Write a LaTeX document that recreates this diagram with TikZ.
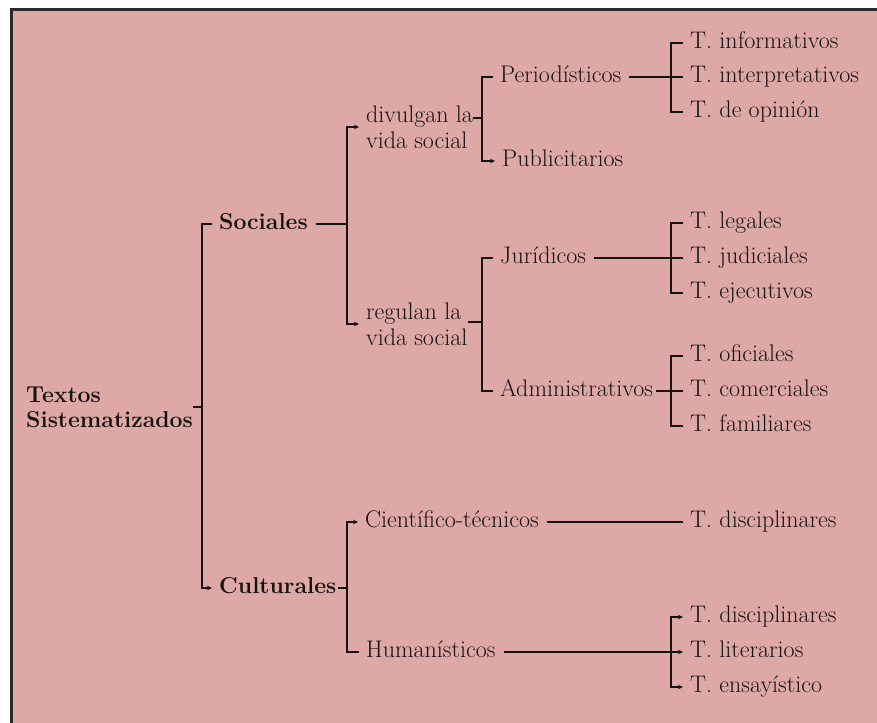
\documentclass[tikz,border=0pt]{standalone}
\usepackage{fontspec}
\usetikzlibrary{arrows.meta}
\definecolor{bgpink}{RGB}{221,168,165}
\definecolor{ink}{RGB}{22,18,18}
\definecolor{framegray}{RGB}{42,40,40}

\begin{document}
\begin{tikzpicture}[x=1pt, y=-1pt,
    txt/.style={font=\fontsize{24}{26}\selectfont, text=ink, inner sep=0pt, anchor=west, text height=15.5pt, text depth=4.5pt},
    two/.style={font=\fontsize{24}{26}\selectfont, text=ink, inner sep=0pt, anchor=west, align=left},
    hd/.style={txt, font=\fontsize{23}{26}\selectfont\bfseries},
    twohd/.style={two, font=\fontsize{23}{25}\selectfont\bfseries},
    br/.style={draw=ink, line width=2.7pt},
    stub/.style={br, shorten >=7pt},
    lead/.style={br, shorten <=8pt},
    fine/.style={line width=1.1pt},
    tip/.style={-{Stealth[length=5pt,width=4.5pt]}}]
  \useasboundingbox (0,0) rectangle (877,722);
  \fill[bgpink] (11,10) rectangle (890,735);
  \draw[framegray, line width=3pt] (11,735) -- (11,10) -- (890,10);

  % first and second level
  \node[twohd] (ts)  at (26,407)  {Textos\\Sistematizados};
  \node[hd]    (soc) at (219,224) {Sociales};
  \node[hd]    (cul) at (219,588) {Culturales};
  \node[two]   (div) at (366,127) {divulgan la\\vida social};
  \node[two]   (reg) at (366,324) {regulan la\\vida social};
  \node[txt]   (cie) at (365,522) {Científico-técnicos};
  \node[txt]   (hum) at (366,652) {Humanísticos};
  \node[txt]   (per) at (500,77)  {Periodísticos};
  \node[txt]   (pub) at (502,161) {Publicitarios};
  \node[txt]   (jur) at (500,258) {Jurídicos};
  \node[txt]   (adm) at (500,391) {Administrativos};

  % kinds of texts
  \node[txt] (t1)  at (690,43)  {T. informativos};
  \node[txt] (t2)  at (690,77)  {T. interpretativos};
  \node[txt] (t3)  at (690,112) {T. de opinión};
  \node[txt] (t4)  at (690,223) {T. legales};
  \node[txt] (t5)  at (690,258) {T. judiciales};
  \node[txt] (t6)  at (690,293) {T. ejecutivos};
  \node[txt] (t7)  at (690,356) {T. oficiales};
  \node[txt] (t8)  at (690,391) {T. comerciales};
  \node[txt] (t9)  at (690,426) {T. familiares};
  \node[txt] (t10) at (690,522) {T. disciplinares};
  \node[txt] (t11) at (690,617) {T. disciplinares};
  \node[txt] (t12) at (690,652) {T. literarios};
  \node[txt] (t13) at (690,687) {T. ensayístico};

  \coordinate (j1) at (202,407);
  \coordinate (j2) at (347,224);
  \coordinate (j3) at (347,588);
  \coordinate (j4) at (482,118);
  \coordinate (j5) at (482,322);
  \coordinate (j6) at (671,77);
  \coordinate (j7) at (671,258);
  \coordinate (j8) at (671,391);
  \coordinate (j9) at (671,652);

  \draw[br] (ts.east) -- (j1);
  \draw[stub] (j1) |- (soc.west);
  \draw[stub, tip] (j1) |- (cul.west);
  \draw[lead] (soc.east) -- (j2);
  \draw[br, fine, shorten <=2pt] (cul.east) -- (j3);
  \draw[stub, tip] (j2) |- (div.west);
  \draw[stub, tip] (j2) |- (reg.west);
  \draw[stub, tip] (j3) |- (cie.west);
  \draw[stub] (j3) |- (hum.west);
  \draw[br] (div.east |- j4) -- (j4);
  \draw[br, fine] (reg.east |- j5) -- (j5);
  \draw[stub] (j4) |- (per.west);
  \draw[stub, tip] (j4) |- (pub.west);
  \draw[stub] (j5) |- (jur.west);
  \draw[stub] (j5) |- (adm.west);

  \draw[lead, shorten >=7pt] (per.east) -- (t2.west);
  \draw[stub] (j6) |- (t1.west);
  \draw[stub] (j6) |- (t3.west);
  \draw[lead, shorten >=7pt] (jur.east) -- (t5.west);
  \draw[stub] (j7) |- (t4.west);
  \draw[stub] (j7) |- (t6.west);
  \draw[lead, shorten <=3pt, shorten >=7pt] (adm.east) -- (t8.west);
  \draw[stub] (j8) |- (t7.west);
  \draw[stub] (j8) |- (t9.west);
  \draw[lead, shorten >=7pt] (cie.east) -- (t10.west);
  \draw[lead, fine, tip, shorten >=7pt] (hum.east) -- (t12.west);
  \draw[stub, tip] (j9) |- (t11.west);
  \draw[stub, tip] (j9) |- (t13.west);
\end{tikzpicture}
\end{document}
